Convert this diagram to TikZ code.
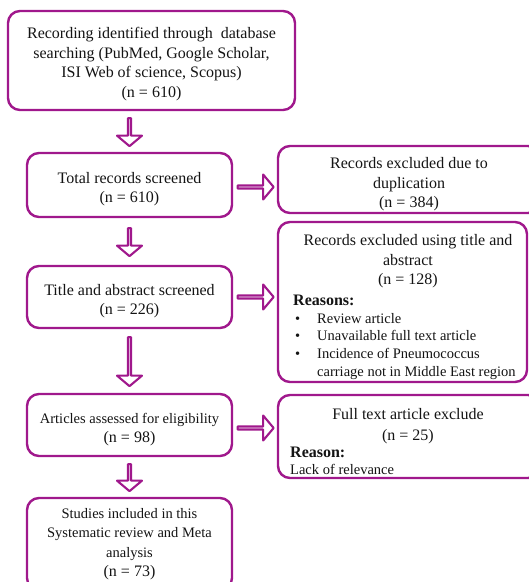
\documentclass[tikz,border=0pt]{standalone}
\usepackage{fontspec}
\setmainfont{Liberation Serif}
\usetikzlibrary{
  positioning,
  calc,
  shapes.arrows,
}
\definecolor{prisma}{HTML}{A0188C}
\definecolor{ink}{HTML}{141414}
\newcommand{\bodysz}{\fontsize{16}{19.4}\selectfont}
\newcommand{\itemsz}{\fontsize{14.5}{17.6}\selectfont}
\tikzset{
  flowchart/.style={
    x=1pt, y=1pt,
    line join=round,
    font=\bodysz,
    text=ink,
  },
  box/.style={
    draw=prisma,
    fill=white,
    line width=2.4pt,
    rounded corners=12pt,
    inner sep=0pt,
  },
  txt/.style={
    inner sep=0pt,
    align=center,
  },
  darr/.style={
    single arrow,
    single arrow head extend=7.5pt,
    single arrow tip angle=100,
    minimum width=25pt,
    inner sep=0pt,
    draw=prisma,
    fill=white,
    line width=2.1pt,
    shape border rotate=270,
  },
  rarr/.style={darr, shape border rotate=0, minimum height=36pt},
}

\begin{document}
\begin{tikzpicture}[flowchart]
  \useasboundingbox (0,0) rectangle (529,-582);
  \clip (0,0) rectangle (529,-582);

  % left column
  \node[box, minimum width=287, minimum height=99] (rec) at (151.5,-60.5) {};
  \node[txt] (rec-t) at (151.5,-64)
    {Recording identified through\ \ database\\
     searching (PubMed, Google Scholar,\\
     ISI Web of science, Scopus)\\
     (n = 610)};

  \node[box, minimum width=205, minimum height=64] (tot) at (129.5,-185) {};
  \node[txt] (tot-t) at (129.5,-189) {Total records screened\\(n = 610)};

  \node[box, minimum width=205, minimum height=62] (tas) at (129.5,-297) {};
  \node[txt] (tas-t) at (129.5,-301) {Title and abstract screened\\(n = 226)};

  \node[box, minimum width=205, minimum height=62] (art) at (129.5,-425) {};
  \node[txt] (art-t) at (129.5,-429.5)
    {{\itemsz Articles assessed for eligibility}\\(n = 98)};

  \node[box, minimum width=205, minimum height=92] (inc) at (129.5,-544) {};
  \node[txt] (inc-t) at (129.5,-544)
    {{\itemsz Studies included in this}\\
     {\itemsz Systematic review and Meta}\\
     {\itemsz analysis}\\
     (n = 73)};

  % right column
  \node[box, minimum width=262, minimum height=67] (dup) at (409,-179.5) {};
  \node[txt] (dup-t) at (409,-184.5)
    {Records excluded due to\\duplication\\(n = 384)};

  \node[box, minimum width=249, minimum height=160] (exc) at (402.5,-302) {};
  \node[txt] (exc-t) at (408,-261.5)
    {Records excluded using title and\\abstract\\(n = 128)};
  \node[txt, anchor=west, font=\bodysz\bfseries] (exc-r) at (293,-300.5) {Reasons:};
  \node[txt, anchor=north west, align=left, font=\itemsz] (exc-l) at (295,-313)
    {\makebox[22pt][l]{\textbullet}Review article\\
     \makebox[22pt][l]{\textbullet}Unavailable full text article\\
     \makebox[22pt][l]{\textbullet}Incidence of Pneumococcus\\
     \hspace*{22pt}carriage not in Middle East region};

  \node[box, minimum width=262, minimum height=83] (fte) at (409,-436.5) {};
  \node[txt] (fte-t) at (408,-426) {Full text article exclude\\[2pt](n = 25)};
  \node[txt, anchor=west, font=\bodysz\bfseries] (fte-r) at (290,-452.5) {Reason:};
  \node[txt, anchor=west, font=\itemsz] (fte-l) at (290,-469.5) {Lack of relevance};

  % block arrows
  \path (tot.north |- rec.south) -- node[darr, minimum height=28pt] {} (tot.north);
  \path (tot.south) -- node[darr, minimum height=28pt] {} (tas.north);
  \path (tas.south) -- node[darr, minimum height=49pt] {} (art.north);
  \path (art.south) -- node[darr, minimum height=27pt] {} (inc.north);

  \path (tot.east) ++(0,-2) -- node[rarr] {} ($(tot.east -| dup.west)+(0,-2)$);
  \path (tas.east) -- node[rarr] {} (tas.east -| exc.west);
  \path (art.east) ++(0,-3) -- node[rarr] {} ($(art.east -| fte.west)+(0,-3)$);
\end{tikzpicture}
\end{document}
